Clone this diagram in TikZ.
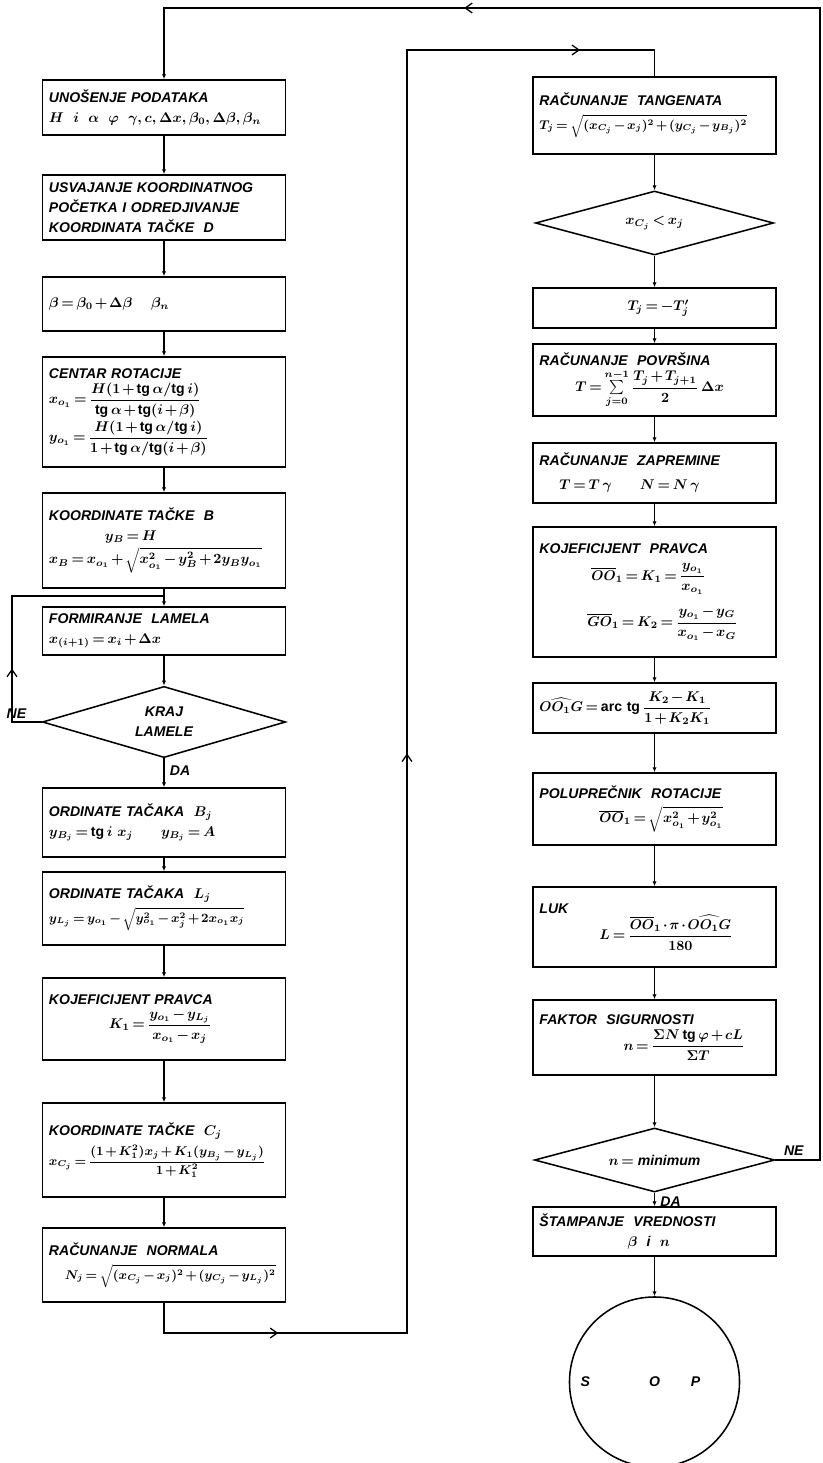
\documentclass[tikz,border=0pt]{standalone}
\usepackage{fontspec}
\setmainfont{Liberation Sans}
\usepackage{amsmath}
\usetikzlibrary{shapes.geometric, arrows.meta, decorations.markings}
\thickmuskip=3mu
\medmuskip=2mu
\relpenalty=10000
\binoppenalty=10000

\begin{document}
\begin{tikzpicture}[x=0.025cm, y=-0.025cm,
    every node/.style={font=\bfseries\itshape\boldmath\fontsize{10}{14}\selectfont},
    blok/.style={draw, line width=1.1pt, minimum width=6.05cm, text width=5.75cm, align=left, inner xsep=4.5pt, inner ysep=2.5pt},
    odluka/.style={draw, diamond, line width=1.1pt, aspect=3.4, inner sep=1pt, align=center},
    veza/.style={line width=0.9pt, -{Latex[length=3.5pt,width=3pt]}},
    linija/.style={line width=0.9pt},
    lbl/.style={inner sep=1pt},
    mid/.style={postaction={decorate, decoration={markings,
        mark=at position #1 with {\arrow{Straight Barb[length=5pt,width=7pt]}}}}}]
    \useasboundingbox (0,0) rectangle (822,1463);
    % left column
    \node[blok, minimum height=1.375cm] (unos) at (164,107.5) {UNOŠENJE PODATAKA\\ $H\ \ i\ \ \alpha\ \ \varphi\ \ \gamma, c, \Delta x, \beta_0, \Delta\beta, \beta_n$};
    \node[blok, minimum height=1.625cm] (usvajanje) at (164,207.5) {USVAJANJE KOORDINATNOG\\ POČETKA I ODREDJIVANJE\\ KOORDINATA TAČKE \ D};
    \node[blok, minimum height=1.35cm] (beta) at (164,304) {$\beta = \beta_0 + \Delta\beta \quad\ \beta_n$};
    \node[blok, minimum height=2.75cm] (centar) at (164,412) {CENTAR ROTACIJE\\[2pt] $x_{o_1} = \dfrac{H(1+\mathrm{tg}\,\alpha/\mathrm{tg}\,i)}{\mathrm{tg}\,\alpha+\mathrm{tg}(i+\beta)}$\\[1pt] $y_{o_1} = \dfrac{H(1+\mathrm{tg}\,\alpha/\mathrm{tg}\,i)}{1+\mathrm{tg}\,\alpha/\mathrm{tg}(i+\beta)}$};
    \node[blok, minimum height=2.375cm] (koordB) at (164,540.5) {KOORDINATE TAČKE \ B\\ \hspace*{1.4cm}$y_B = H$\\[3pt] $x_B = x_{o_1} + \sqrt{x_{o_1}^2 - y_B^2 + 2y_By_{o_1}}$};
    \node[blok, minimum height=1.2cm] (lamele) at (164,631) {FORMIRANJE \ LAMELA\\ $x_{(i+1)} = x_i + \Delta x$};
    \node[odluka, minimum width=6.08cm, minimum height=1.78cm] (kraj) at (164,722) {KRAJ\\LAMELE};
    \node[blok, minimum height=1.725cm] (ordB) at (164,822.5) {ORDINATE TAČAKA \ $B_j$\\ $y_{B_j} = \mathrm{tg}\,i\ x_j \qquad y_{B_j} = A$};
    \node[blok, minimum height=1.825cm] (ordL) at (164,908.5) {ORDINATE TAČAKA \ $L_j$\\[3pt] {\small$y_{L_j} = y_{o_1} - \sqrt{y_{o_1}^2 - x_j^2 + 2x_{o_1}x_j}$}};
    \node[blok, minimum height=2.05cm] (pravac) at (164,1019) {KOJEFICIJENT PRAVCA\\[3pt] \hspace*{1.5cm}$K_1 = \dfrac{y_{o_1} - y_{L_j}}{x_{o_1} - x_j}$};
    \node[blok, minimum height=2.35cm] (koordC) at (164,1150) {KOORDINATE TAČKE \ $C_j$\\[3pt] {\small$x_{C_j} = \dfrac{(1+K_1^2)x_j + K_1(y_{B_j} - y_{L_j})}{1+K_1^2}$}};
    \node[blok, minimum height=1.85cm] (normala) at (164,1265) {RAČUNANJE \ NORMALA\\[3pt] \hspace*{0.4cm}{\small$N_j = \sqrt{(x_{C_j} - x_j)^2 + (y_{C_j} - y_{L_j})^2}$}};
    % right column
    \node[blok, minimum height=1.925cm] (tangente) at (654.5,115.5) {RAČUNANJE \ TANGENATA\\[3pt] {\small$T_j = \sqrt{(x_{C_j} - x_j)^2 + (y_{C_j} - y_{B_j})^2}$}};
    \node[odluka, minimum width=5.95cm, minimum height=1.6cm] (uslov) at (654.5,223) {$x_{C_j} < x_j$};
    \node[blok, minimum height=1.0cm] (znak) at (654.5,308) {\hspace*{2.2cm}$T_j = -T_j'$};
    \node[blok, minimum height=1.8cm] (povrsina) at (654.5,380) {RAČUNANJE \ POVRŠINA\\[2pt] \hspace*{0.9cm}$T = \sum\limits_{j=0}^{n-1} \dfrac{T_j + T_{j+1}}{2}\,\Delta x$};
    \node[blok, minimum height=1.5cm] (zapremina) at (654.5,473) {RAČUNANJE \ ZAPREMINE\\[3pt] \hspace*{0.5cm}$T = T\,\gamma \qquad N = N\,\gamma$};
    \node[blok, minimum height=3.25cm] (pravac2) at (654.5,592) {KOJEFICIJENT \ PRAVCA\\[5pt] \hspace*{1.3cm}$\overline{OO}_1 = K_1 = \dfrac{y_{o_1}}{x_{o_1}}$\\[8pt] \hspace*{1.2cm}$\overline{GO}_1 = K_2 = \dfrac{y_{o_1} - y_G}{x_{o_1} - x_G}$};
    \node[blok, minimum height=1.25cm] (ugao) at (654.5,708) {$\widehat{OO_1G} = \mathrm{arc\ tg}\,\dfrac{K_2 - K_1}{1 + K_2K_1}$};
    \node[blok, minimum height=1.8cm] (poluprecnik) at (654.5,809) {POLUPREČNIK \ ROTACIJE\\[3pt] \hspace*{1.5cm}$\overline{OO}_1 = \sqrt{x_{o_1}^2 + y_{o_1}^2}$};
    \node[blok, minimum height=2.0cm] (luk) at (654.5,927) {LUK\\ \hspace*{1.5cm}$L = \dfrac{\overline{OO}_1\cdot\pi\cdot\widehat{OO_1G}}{180}$};
    \node[blok, minimum height=1.875cm] (faktor) at (654.5,1037.5) {FAKTOR \ SIGURNOSTI\\[3pt] \hspace*{2.1cm}$n = \dfrac{\Sigma N\,\mathrm{tg}\,\varphi + cL}{\Sigma T}$};
    \node[odluka, minimum width=6.0cm, minimum height=1.6cm] (minimum) at (654.5,1160) {$n =$ minimum};
    \node[blok, minimum height=1.225cm] (stampanje) at (654.5,1231.5) {ŠTAMPANJE \ VREDNOSTI\\ \hspace*{2.2cm}$\beta$ \ i \ $n$};
    \node[draw, circle, line width=1.1pt, minimum size=4.25cm, inner sep=0pt] (stop) at (654.5,1382) {S\hspace{1.475cm}O\hspace{0.775cm}P\hspace*{0.7cm}};
    % corners
    \coordinate (spoj) at (164,596);
    \coordinate (petlja) at (12,596);
    \coordinate (a1) at (407,1333);
    \coordinate (a2) at (407,50);
    \coordinate (b1) at (820,8);
    % connectors, left
    \draw[veza] (unos) -- (usvajanje);
    \draw[veza] (usvajanje) -- (beta);
    \draw[veza] (beta) -- (centar);
    \draw[veza] (centar) -- (koordB);
    \draw[veza] (koordB) -- (lamele);
    \draw[veza] (lamele) -- (kraj);
    \draw[veza] (kraj) -- (ordB);
    \draw[veza] (ordB) -- (ordL);
    \draw[veza] (ordL) -- (pravac);
    \draw[veza] (pravac) -- (koordC);
    \draw[veza] (koordC) -- (normala);
    \draw[linija, mid=0.27] (kraj.west) -| (petlja) -- (spoj);
    \node[lbl, anchor=south west] (ne1) at ([xshift=-5pt,yshift=1pt]kraj.west -| petlja) {NE};
    \node[lbl, anchor=north west] (da1) at ([xshift=3pt,yshift=-4pt]kraj.south) {DA};
    % over to the right column
    \draw[linija, mid=0.079, mid=0.466, mid=0.945] (normala.south) |- (a1) -- (a2) -| (tangente.north);
    % connectors, right
    \draw[veza] (tangente) -- (uslov);
    \draw[veza] (uslov) -- (znak);
    \draw[veza] (znak) -- (povrsina);
    \draw[veza] (povrsina) -- (zapremina);
    \draw[veza] (zapremina) -- (pravac2);
    \draw[veza] (pravac2) -- (ugao);
    \draw[veza] (ugao) -- (poluprecnik);
    \draw[veza] (poluprecnik) -- (luk);
    \draw[veza] (luk) -- (faktor);
    \draw[veza] (faktor) -- (minimum);
    \draw[veza] (minimum) -- (stampanje);
    \draw[veza] (stampanje) -- (stop);
    \node[lbl, anchor=north west] (da2) at ([xshift=3pt,yshift=-2pt]minimum.south) {DA};
    \node[lbl, anchor=south west] (ne2) at ([xshift=5pt,yshift=2pt]minimum.east) {NE};
    % back to start
    \draw[veza, mid=0.807] (minimum.east) -| (b1) -| (unos.north);
\end{tikzpicture}
\end{document}
